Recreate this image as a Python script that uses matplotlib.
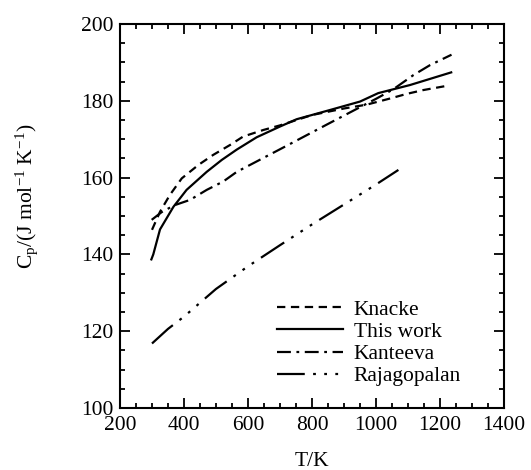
import matplotlib
matplotlib.use('Agg')
import matplotlib.pyplot as plt

plt.rcParams['font.family'] = ['Liberation Serif', 'DejaVu Serif']
plt.rcParams['mathtext.fontset'] = 'custom'
plt.rcParams['mathtext.rm'] = 'Liberation Serif'
plt.rcParams['mathtext.it'] = 'Liberation Serif:italic'
plt.rcParams['lines.scale_dashes'] = False

# data (T in K, Cp in J/mol/K)
knacke_T = [300, 325, 356, 393, 445, 491, 544, 585, 648, 700, 800, 900, 971, 1044, 1096, 1148, 1215]
knacke_cp = [146.4, 151.1, 155.5, 159.8, 163.3, 165.9, 168.5, 170.7, 172.4, 173.6, 176.3, 178.0, 179.0, 180.6, 181.8, 182.8, 183.8]

this_T = [298, 304, 325, 367, 408, 471, 518, 565, 627, 700, 752, 856, 950, 1007, 1106, 1235]
this_cp = [138.7, 140.0, 146.5, 152.4, 156.8, 161.5, 164.6, 167.3, 170.5, 173.3, 175.2, 177.6, 179.8, 182.0, 184.1, 187.4]

kant_T = [299, 330, 370, 419, 471, 523, 565, 721, 846, 940, 1002, 1054, 1117, 1169, 1236]
kant_cp = [149.0, 151.0, 152.8, 154.2, 156.8, 159.0, 161.5, 168.3, 173.8, 177.9, 180.6, 183.0, 186.7, 189.3, 192.0]

raja_T = [300, 350, 400, 500, 600, 700, 800, 900, 1000, 1070]
raja_cp = [116.8, 120.6, 123.8, 131.0, 136.9, 142.4, 147.8, 153.0, 158.2, 162.0]

fig = plt.figure(figsize=(5.31, 4.70), dpi=100)
ax = fig.add_axes([120 / 531, 1 - 408 / 470, 384 / 531, 384 / 470])

lw = 1.6
ax.plot(knacke_T, knacke_cp, color='black', lw=lw, linestyle=(0, (6, 4)), label='Knacke')
ax.plot(this_T, this_cp, color='black', lw=lw, linestyle='-', label='This work')
ax.plot(kant_T, kant_cp, color='black', lw=lw, linestyle=(0, (10, 4, 2, 4)), label='Kanteeva')
ax.plot(raja_T, raja_cp, color='black', lw=lw,
        linestyle=(0, (20, 6, 2, 6, 2, 6, 2, 6)), label='Rajagopalan')

ax.set_xlim(200, 1400)
ax.set_ylim(100, 200)
ax.set_xticks(range(200, 1401, 200))
ax.set_xticks(range(200, 1401, 50), minor=True)
ax.set_yticks(range(100, 201, 20))
ax.set_yticks(range(100, 201, 5), minor=True)
ax.tick_params(which='both', direction='in', top=True, right=True, width=1.3, labelsize=15.5)
ax.tick_params(which='major', length=7)
ax.tick_params(which='minor', length=3.5)
ax.tick_params(axis='x', pad=6)
ax.tick_params(axis='y', pad=5)
for s in ax.spines.values():
    s.set_linewidth(1.5)

ax.set_xlabel('T/K', fontsize=15.5, labelpad=12)
ax.set_ylabel('C$_\\mathrm{p}$/(J mol$^\\mathrm{-1}$ K$^\\mathrm{-1}$)', fontsize=15.5, va='center')
ax.yaxis.set_label_coords(-0.242, 0.55)

ax.legend(loc='upper left', bbox_to_anchor=(0.409, 0.282), frameon=False, fontsize=15.5,
          handlelength=3.07, handletextpad=0.5, labelspacing=0.1, borderaxespad=0, borderpad=0)

fig.savefig('out.png', dpi=100)
